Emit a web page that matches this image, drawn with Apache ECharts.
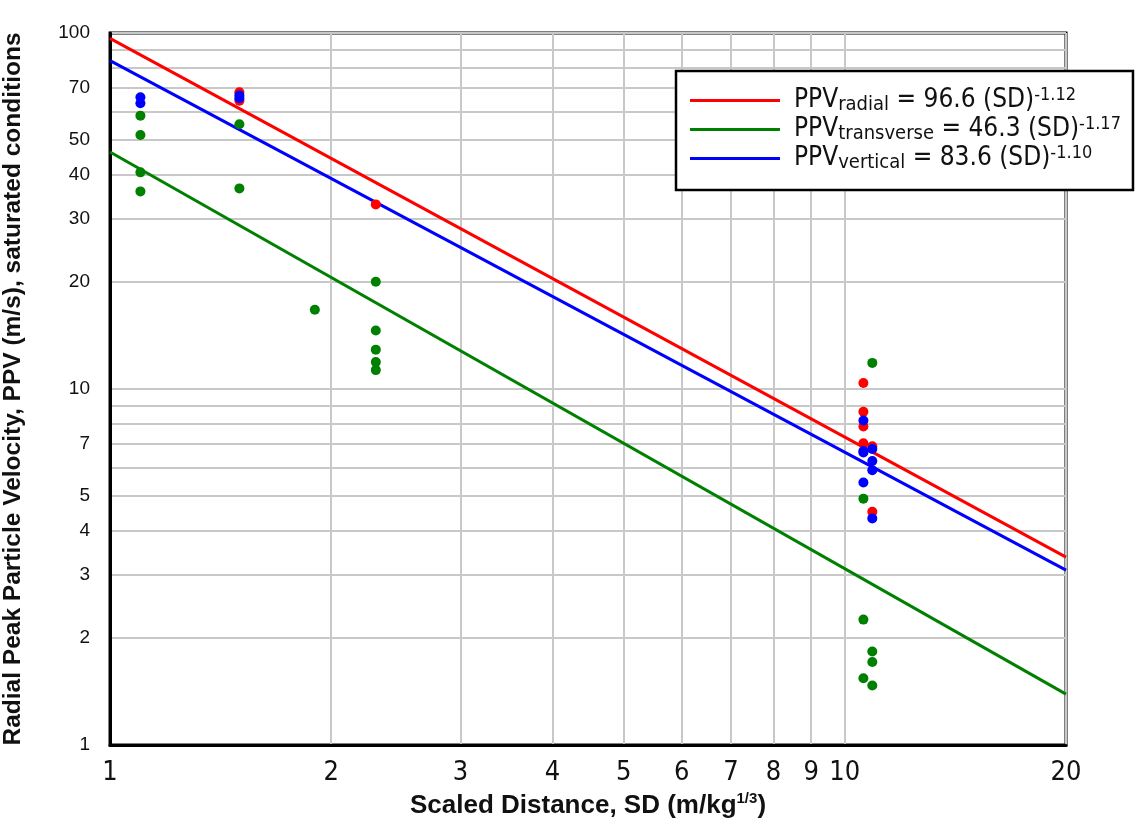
<!DOCTYPE html>
<html>
<head>
<meta charset="utf-8">
<script src="https://cdn.jsdelivr.net/npm/echarts@6/dist/echarts.min.js"></script>
<style>
  html, body { margin: 0; padding: 0; background: #fff; }
  #chart { width: 1136px; height: 824px; }
</style>
</head>
<body>
<div id="chart"></div>
<script>
// Scaled distance columns and measured PPV (m/s)
const radialSD   = [1.5, 1.5, 2.3, 10.6, 10.6, 10.6, 10.6, 10.9, 10.9];
const radialPPV  = [68.2, 64.5, 33.0, 10.4, 8.63, 7.85, 7.04, 6.90, 4.52];

const transSD    = [1.1, 1.1, 1.1, 1.1, 1.5, 1.5, 1.9, 2.3, 2.3, 2.3, 2.3, 2.3, 10.6, 10.6, 10.6, 10.9, 10.9, 10.9, 10.9];
const transPPV   = [58.6, 51.7, 40.6, 35.9, 55.4, 36.6, 16.7, 20.0, 14.6, 12.9, 11.9, 11.3, 4.92, 2.25, 1.54, 11.84, 1.83, 1.71, 1.47];

const vertSD     = [1.1, 1.1, 1.5, 1.5, 10.6, 10.6, 10.6, 10.6, 10.9, 10.9, 10.9, 10.9];
const vertPPV    = [66.0, 63.5, 66.8, 65.6, 8.16, 6.70, 6.63, 5.46, 6.78, 6.28, 5.91, 4.33];

// Fitted attenuation lines, evaluated at SD = 1 and SD = 20
const fitSD          = [1, 20];
const fitRadial      = [96.6, 3.37];
const fitTransverse  = [46.3, 1.39];
const fitVertical    = [83.6, 3.10];

// Axis tick labels and grid positions
const xLabelValues = [1, 2, 3, 4, 5, 6, 7, 8, 9, 10, 20];
const xGridValues  = [1, 2, 3, 4, 5, 6, 7, 8, 9, 10, 20];
const yLabelValues = [1, 2, 3, 4, 5, 7, 10, 20, 30, 40, 50, 70, 100];
const yGridValues  = [1, 2, 3, 4, 5, 6, 7, 8, 9, 10, 20, 30, 40, 50, 60, 70, 80, 90, 100];

const fitNames = ['radial', 'transverse', 'vertical'];
const fitText = {
  radial:     '{m|PPV}{sub|radial}{m| = 96.6 (SD)}{sup|-1.12}',
  transverse: '{m|PPV}{sub|transverse}{m| = 46.3 (SD)}{sup|-1.17}',
  vertical:   '{m|PPV}{sub|vertical}{m| = 83.6 (SD)}{sup|-1.10}'
};

const RED = '#ff0000', GREEN = '#008000', BLUE = '#0000ff';
const NARROW = '"Liberation Sans Narrow", "Arial Narrow", "DejaVu Sans Condensed", sans-serif';
const SANS = '"Liberation Sans", Arial, sans-serif';

function pairs(xs, ys) { return xs.map((x, i) => [x, ys[i]]); }

const chart = echarts.init(document.getElementById('chart'), null, { renderer: 'canvas' });

chart.setOption({
  backgroundColor: '#ffffff',
  animation: false,
  grid: {
    left: 110, top: 33, right: 70, bottom: 79,
    outerBoundsMode: 'none', containLabel: false,
    show: true, borderColor: '#000', borderWidth: 3, backgroundColor: 'transparent'
  },
  legend: {
    data: fitNames.map(n => ({ name: n, icon: 'rect' })),
    orient: 'vertical',
    left: 676, top: 71,
    itemWidth: 90, itemHeight: 3, itemGap: 0,
    padding: [15, 12, 17, 14],
    backgroundColor: '#fff',
    borderColor: '#000', borderWidth: 2.5,
    selectedMode: false,
    formatter: n => fitText[n],
    textStyle: {
      padding: [0, 0, 0, 9],
      rich: {
        m:   { fontFamily: NARROW, fontSize: 26, lineHeight: 29, color: '#111', verticalAlign: 'middle' },
        sub: { fontFamily: NARROW, fontSize: 20, lineHeight: 18, color: '#111', verticalAlign: 'bottom' },
        sup: { fontFamily: NARROW, fontSize: 18, lineHeight: 17, color: '#111', verticalAlign: 'top' }
      }
    }
  },
  xAxis: {
    type: 'log', logBase: 10, min: 1, max: 20,
    name: '{t|Scaled Distance, SD (m/kg}{s|1/3}{t|)}',
    nameLocation: 'middle', nameGap: 46,
    nameTextStyle: {
      rich: {
        t: { fontFamily: SANS, fontWeight: 'bold', fontSize: 26, lineHeight: 30, color: '#111', verticalAlign: 'middle' },
        s: { fontFamily: SANS, fontWeight: 'bold', fontSize: 15, lineHeight: 22, color: '#111', verticalAlign: 'top' }
      }
    },
    axisLine: { show: true, lineStyle: { color: '#000', width: 3 } },
    axisTick: { show: false, customValues: xGridValues },
    axisLabel: {
      customValues: xLabelValues, margin: 14,
      fontFamily: NARROW, fontSize: 27, color: '#111',
      formatter: v => String(Math.round(v))
    },
    splitLine: { show: true, lineStyle: { color: '#c8c8c8', width: 2 } },
    minorSplitLine: { show: false }
  },
  yAxis: {
    type: 'log', logBase: 10, min: 1, max: 100,
    name: 'Radial Peak Particle Velocity, PPV (m/s), saturated conditions',
    nameLocation: 'middle', nameGap: 84, nameRotate: 90,
    nameTextStyle: { fontFamily: SANS, fontWeight: 'bold', fontSize: 24.5, color: '#111' },
    axisLine: { show: true, lineStyle: { color: '#000', width: 3 } },
    axisTick: { show: false, customValues: yGridValues },
    axisLabel: {
      customValues: yLabelValues, margin: 20,
      fontFamily: SANS, fontSize: 19, color: '#111',
      formatter: v => String(Math.round(v))
    },
    splitLine: { show: true, lineStyle: { color: '#c8c8c8', width: 2 } }
  },
  series: [
    { name: 'radial', type: 'line', data: pairs(fitSD, fitRadial), showSymbol: false,
      lineStyle: { color: RED, width: 3 }, itemStyle: { color: RED }, z: 2 },
    { name: 'transverse', type: 'line', data: pairs(fitSD, fitTransverse), showSymbol: false,
      lineStyle: { color: GREEN, width: 3 }, itemStyle: { color: GREEN }, z: 2 },
    { name: 'vertical', type: 'line', data: pairs(fitSD, fitVertical), showSymbol: false,
      lineStyle: { color: BLUE, width: 3 }, itemStyle: { color: BLUE }, z: 2 },
    { name: 'radial data', type: 'scatter', data: pairs(radialSD, radialPPV),
      symbolSize: 10, itemStyle: { color: RED, opacity: 1 }, z: 3 },
    { name: 'transverse data', type: 'scatter', data: pairs(transSD, transPPV),
      symbolSize: 10, itemStyle: { color: GREEN, opacity: 1 }, z: 3 },
    { name: 'vertical data', type: 'scatter', data: pairs(vertSD, vertPPV),
      symbolSize: 10, itemStyle: { color: BLUE, opacity: 1 }, z: 4 }
  ]
});
</script>
</body>
</html>
